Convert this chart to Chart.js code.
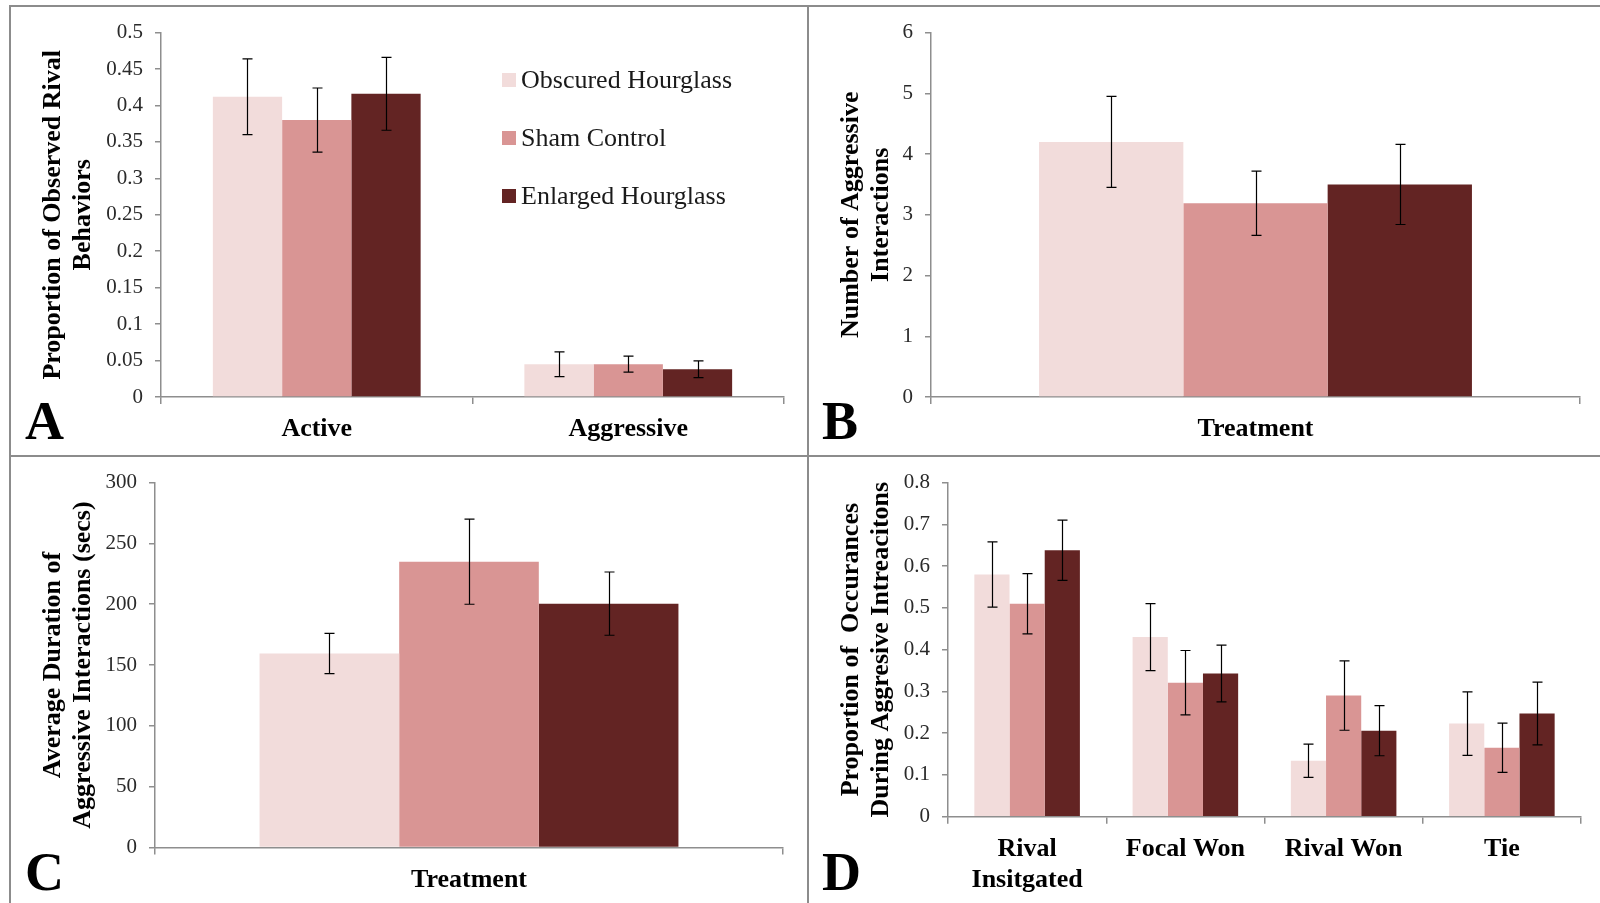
<!DOCTYPE html>
<html>
<head>
<meta charset="utf-8">
<script src="https://cdn.jsdelivr.net/npm/chart.js@4.4.1/dist/chart.umd.min.js"></script>
<style>
  body { margin: 0; background: #fff; width: 1600px; height: 903px; overflow: hidden; position: relative;
         font-family: 'Liberation Serif', 'Times New Roman', serif; }
  canvas { position: absolute; }
  .rule { position: absolute; background: #8c8c8c; }
  .letter { position: absolute; font-weight: bold; font-size: 54px; line-height: 54px; color: #000; }
  #legend { position: absolute; left: 502px; top: 65px; }
  .row { display: flex; align-items: center; height: 30px; margin-bottom: 28px; font-size: 26px; line-height: 30px; color: #1a1a1a; }
  .sw { width: 14px; height: 14px; margin-right: 5px; }
</style>
</head>
<body>
<div class="rule" style="left:9px;top:5px;width:1591px;height:2px"></div>
<div class="rule" style="left:9px;top:5px;width:2px;height:898px"></div>
<div class="rule" style="left:807px;top:5px;width:2px;height:898px"></div>
<div class="rule" style="left:9px;top:455px;width:1591px;height:2px"></div>

<canvas id="chartA" width="796" height="446" style="left:10px;top:8px"></canvas>
<canvas id="chartB" width="790" height="446" style="left:810px;top:8px"></canvas>
<canvas id="chartC" width="796" height="445" style="left:10px;top:458px"></canvas>
<canvas id="chartD" width="790" height="445" style="left:810px;top:458px"></canvas>

<div class="letter" style="left:25px;top:394px">A</div>
<div class="letter" style="left:822px;top:394px">B</div>
<div class="letter" style="left:25px;top:845px">C</div>
<div class="letter" style="left:822px;top:845px">D</div>
<div id="legend"></div>

<script>
// treatment groups (one bar colour each)
const groups = ['Obscured Hourglass', 'Sham Control', 'Enlarged Hourglass'];
const groupColors = ['#F2DCDB', '#D99594', '#632423'];

// A - proportion of observed rival behaviours
const behaviorLabels = ['Active', 'Aggressive'];
const behaviorObscured = [0.412, 0.045];
const behaviorSham = [0.380, 0.045];
const behaviorEnlarged = [0.416, 0.038];
const behaviorObscuredErr = [0.052, 0.017];
const behaviorShamErr = [0.044, 0.011];
const behaviorEnlargedErr = [0.050, 0.0115];

// B - number of aggressive interactions
const treatmentLabels = ['Treatment'];
const interactionCounts = [4.20, 3.19, 3.50];
const interactionErr = [0.75, 0.53, 0.66];

// C - average duration (secs)
const durationMeans = [159.5, 235.0, 200.5];
const durationErr = [16.5, 35.0, 26.0];

// D - proportion of occurances during aggressive interactions
const outcomeLabels = [['Rival', 'Insitgated'], 'Focal Won', 'Rival Won', 'Tie'];
const outcomeObscured = [0.580, 0.430, 0.134, 0.223];
const outcomeSham = [0.510, 0.321, 0.290, 0.165];
const outcomeEnlarged = [0.638, 0.343, 0.206, 0.247];
const outcomeObscuredErr = [0.078, 0.080, 0.040, 0.076];
const outcomeShamErr = [0.072, 0.077, 0.083, 0.059];
const outcomeEnlargedErr = [0.072, 0.068, 0.060, 0.075];

Chart.defaults.font.family = "'Liberation Serif', 'Times New Roman', serif";
Chart.defaults.color = '#2a2a2a';

const axisGray = '#8e8e8e';

// draws +/- error whiskers on top of every bar
const errorBars = {
  id: 'errorBars',
  afterDatasetsDraw(chart) {
    const ctx = chart.ctx;
    const y = chart.scales.y;
    ctx.save();
    ctx.strokeStyle = '#000';
    ctx.lineWidth = 1.2;
    chart.data.datasets.forEach((ds, i) => {
      chart.getDatasetMeta(i).data.forEach((bar, j) => {
        const v = ds.data[j], e = ds.errors[j];
        const top = y.getPixelForValue(v + e);
        const bot = y.getPixelForValue(v - e);
        const x = Math.round(bar.x) + 0.5;
        ctx.beginPath();
        ctx.moveTo(x, top); ctx.lineTo(x, bot);
        ctx.moveTo(x - 5, top); ctx.lineTo(x + 5, top);
        ctx.moveTo(x - 5, bot); ctx.lineTo(x + 5, bot);
        ctx.stroke();
      });
    });
    ctx.restore();
  }
};

function makeDatasets(values, errors) {
  return groups.map((g, i) => ({
    label: g,
    data: values[i],
    errors: errors[i],
    backgroundColor: groupColors[i],
    borderWidth: 0,
    barPercentage: 1.0,
    categoryPercentage: 0.667
  }));
}

function makePanel(id, p) {
  new Chart(document.getElementById(id), {
    type: 'bar',
    data: { labels: p.labels, datasets: p.datasets },
    options: {
      responsive: false,
      animation: false,
      events: [],
      layout: { padding: { top: p.padTop, right: p.padRight, bottom: 0, left: 0 } },
      plugins: { legend: { display: false }, tooltip: { enabled: false } },
      scales: {
        x: {
          afterFit: s => { s.height = p.xHeight; },
          border: { display: true, color: axisGray, width: 1.5 },
          grid: { offset: true, drawOnChartArea: false, drawTicks: true, tickLength: 7, color: axisGray, lineWidth: 1.5 },
          ticks: { maxRotation: 0, autoSkip: false, padding: 10, color: '#000',
                   font: { size: 26, weight: 'bold', lineHeight: 1.2 } }
        },
        y: {
          min: 0, max: p.yMax,
          afterFit: s => { s.width = p.yWidth; },
          border: { display: true, color: axisGray, width: 1.5 },
          grid: { drawOnChartArea: false, drawTicks: true, tickLength: 6, color: axisGray, lineWidth: 1.5 },
          ticks: { stepSize: p.yStep, padding: 12, font: { size: 21 },
                   callback: v => String(+v.toFixed(2)) },
          title: { display: true, text: p.title, color: '#000',
                   padding: { top: p.titlePad, bottom: 0 },
                   font: { size: 26, weight: 'bold', lineHeight: 1.15 } }
        }
      }
    },
    plugins: [errorBars]
  });
}

makePanel('chartA', {
  labels: behaviorLabels,
  datasets: makeDatasets([behaviorObscured, behaviorSham, behaviorEnlarged],
                         [behaviorObscuredErr, behaviorShamErr, behaviorEnlargedErr]),
  yMax: 0.5, yStep: 0.05,
  title: ['Proportion of Observed Rival', 'Behaviors'],
  yWidth: 151, xHeight: 57, padTop: 21, padRight: 22, titlePad: 28
});

makePanel('chartB', {
  labels: treatmentLabels,
  datasets: makeDatasets(interactionCounts.map(v => [v]), interactionErr.map(v => [v])),
  yMax: 6, yStep: 1,
  title: ['Number of Aggressive', 'Interactions'],
  yWidth: 121, xHeight: 57, padTop: 21, padRight: 20, titlePad: 26
});

makePanel('chartC', {
  labels: treatmentLabels,
  datasets: makeDatasets(durationMeans.map(v => [v]), durationErr.map(v => [v])),
  yMax: 300, yStep: 50,
  title: ['Average Duration of', 'Aggressive Interactions (secs)'],
  yWidth: 145, xHeight: 55.5, padTop: 21, padRight: 23, titlePad: 28
});

makePanel('chartD', {
  labels: outcomeLabels,
  datasets: makeDatasets([outcomeObscured, outcomeSham, outcomeEnlarged],
                         [outcomeObscuredErr, outcomeShamErr, outcomeEnlargedErr]),
  yMax: 0.8, yStep: 0.1,
  title: ['Proportion of  Occurances', 'During Aggresive Intreacitons'],
  yWidth: 138, xHeight: 86.3, padTop: 21, padRight: 19, titlePad: 26
});

// legend for panel A
const legend = document.getElementById('legend');
groups.forEach((g, i) => {
  const row = document.createElement('div');
  row.className = 'row';
  const sw = document.createElement('div');
  sw.className = 'sw';
  sw.style.background = groupColors[i];
  const txt = document.createElement('span');
  txt.textContent = g;
  row.appendChild(sw);
  row.appendChild(txt);
  legend.appendChild(row);
});
</script>
</body>
</html>
